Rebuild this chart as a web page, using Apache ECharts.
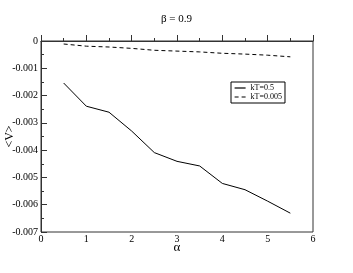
<!DOCTYPE html>
<html><head><meta charset="utf-8">
<script src="https://cdn.jsdelivr.net/npm/echarts@6/dist/echarts.min.js"></script>
<style>html,body{margin:0;padding:0;background:#fff}#c{width:353px;height:273px}</style>
</head><body><div id="c"></div>
<script>
const alphaVals = [0.5, 1, 1.5, 2, 2.5, 3, 3.5, 4, 4.5, 5, 5.5];
const kT05 = [-0.00154, -0.00239, -0.00261, -0.0033, -0.00409, -0.00441, -0.00458, -0.00522, -0.00545, -0.00587, -0.00631];
const kT0005 = [-0.00011, -0.00019, -0.00022, -0.00027, -0.00034, -0.00037, -0.0004, -0.00045, -0.00048, -0.00052, -0.00058];
const seriesNames = ['kT=0.5', 'kT=0.005'];
const FONT = 'Liberation Serif';
const chart = echarts.init(document.getElementById('c'));
chart.setOption({
  backgroundColor: '#fff',
  animation: false,
  title: { text: 'β = 0.9', left: 'center', top: 9, textStyle: { fontFamily: FONT, fontSize: 11, fontWeight: 'normal', color: '#000' } },
  legend: {
    data: seriesNames, orient: 'vertical', left: 231, top: 82, itemWidth: 11, itemHeight: 7, itemGap: 1,
    padding: [2, 3, 2, 3], borderColor: '#000', borderWidth: 1,
    itemStyle: { opacity: 0 },
    lineStyle: { width: 1.2 },
    textStyle: { fontFamily: FONT, fontSize: 8, color: '#000' }
  },
  grid: { left: 41, right: 40, top: 41, bottom: 41, show: true, borderColor: '#333', borderWidth: 1, outerBoundsMode: 'none', containLabel: false },
  xAxis: {
    type: 'value', min: 0, max: 6, interval: 1, name: 'α', nameLocation: 'middle', nameGap: 9, nameMoveOverlap: false,
    nameTextStyle: { fontFamily: FONT, fontSize: 13, color: '#000' },
    axisLine: { lineStyle: { color: '#333' } },
    axisTick: { inside: true, length: 6, lineStyle: { color: '#333' } },
    minorTick: { show: true, splitNumber: 2, length: 3, lineStyle: { color: '#333' } },
    splitLine: { show: false },
    axisLabel: { fontFamily: FONT, fontSize: 10, color: '#000', margin: 2 }
  },
  yAxis: {
    type: 'value', min: -0.007, max: 0, interval: 0.001, name: '<V>', nameLocation: 'middle', nameGap: 25, nameMoveOverlap: false,
    nameTextStyle: { fontFamily: FONT, fontSize: 12, color: '#000' },
    axisLine: { lineStyle: { color: '#333' } },
    axisTick: { inside: true, length: 6, lineStyle: { color: '#333' } },
    minorTick: { show: true, splitNumber: 2, length: 3, lineStyle: { color: '#333' } },
    splitLine: { show: false },
    axisLabel: { fontFamily: FONT, fontSize: 10, color: '#000', margin: 3, formatter: v => v === 0 ? '0' : String(+v.toFixed(3)) }
  },
  series: [
    { name: seriesNames[0], type: 'line', data: alphaVals.map((a, i) => [a, kT05[i]]), symbol: 'none', lineStyle: { color: '#000', width: 1 }, itemStyle: { color: '#000' } },
    { name: seriesNames[1], type: 'line', data: alphaVals.map((a, i) => [a, kT0005[i]]), symbol: 'none', lineStyle: { color: '#000', width: 1, type: [4, 3] }, itemStyle: { color: '#000' } }
  ]
});
</script></body></html>
